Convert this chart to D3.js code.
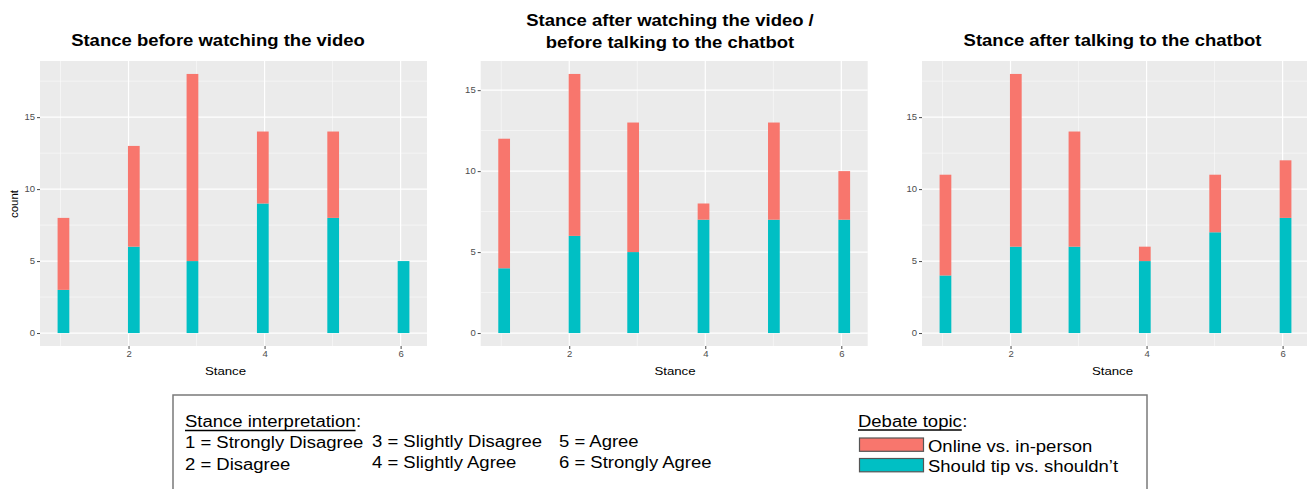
<!DOCTYPE html>
<html>
<head>
<meta charset="utf-8">
<script src="https://cdn.jsdelivr.net/npm/d3@7"></script>
<style>
  body { margin: 0; background: #fff; }
  svg { display: block; }
  text { font-family: "Liberation Sans", Arial, Helvetica, sans-serif; }
</style>
</head>
<body>
<svg id="chart" width="1307" height="489"></svg>
<script>
// ---- data ----
const stances = [1, 2, 3, 4, 5, 6];
const panelTitles = [
  ["Stance before watching the video"],
  ["Stance after watching the video /", "before talking to the chatbot"],
  ["Stance after talking to the chatbot"]
];
// counts per stance, one array per debate topic and per moment
const onlineBefore = [5, 7, 13, 5, 6, 0];
const tipBefore    = [3, 6, 5, 9, 8, 5];
const onlineMiddle = [8, 10, 8, 1, 6, 3];
const tipMiddle    = [4, 6, 5, 7, 7, 7];
const onlineAfter  = [7, 12, 8, 1, 4, 4];
const tipAfter     = [4, 6, 6, 5, 7, 8];
const xTicks = [2, 4, 6];
const yTicks = [0, 5, 10, 15];
const topicNames = ["Online vs. in-person", "Should tip vs. shouldn\u2019t"];
const stanceLegend = [
  ["1 = Strongly Disagree", "2 = Disagree"],
  ["3 = Slightly Disagree", "4 = Slightly Agree"],
  ["5 = Agree", "6 = Strongly Agree"]
];

const panelsData = [
  { online: onlineBefore, tip: tipBefore },
  { online: onlineMiddle, tip: tipMiddle },
  { online: onlineAfter,  tip: tipAfter }
];

const colors = { online: "#F8766D", tip: "#00BFC4" };

// histogram binning: 30 bins spanning the stance range
const binWidth = (d3.max(stances) - d3.min(stances)) / 29;
const binStart = d3.min(stances) - binWidth / 4;
const binEnd = binStart + 30 * binWidth;
const binLeft = s => binStart + Math.floor((s - binStart) / binWidth) * binWidth;

const svg = d3.select("#chart");

// horizontal stretch of text to the drawn widths
function stretch(sel, k) {
  sel.each(function () {
    const len = this.getComputedTextLength();
    d3.select(this).attr("textLength", len * k).attr("lengthAdjust", "spacingAndGlyphs");
  });
}

// ---- panel layout ----
const plotTop = 61, plotBottom = 346, plotWidth = 387;
const panelLefts = [40, 480.7, 922];
const titleCenters = [218, 670, 1112.5];
const axisTitleCenters = [225.5, 675, 1112.5];

panelsData.forEach((pd, i) => {
  const left = panelLefts[i];
  const xPad = (binEnd - binStart) * 0.05;
  const x = d3.scaleLinear().domain([binStart - xPad, binEnd + xPad]).range([left, left + plotWidth]);
  const maxTotal = d3.max(stances, (s, j) => pd.online[j] + pd.tip[j]);
  const y = d3.scaleLinear().domain([-0.05 * maxTotal, maxTotal * 1.05]).range([plotBottom, plotTop]);

  const g = svg.append("g");

  // panel background
  g.append("rect")
    .attr("x", left).attr("y", plotTop)
    .attr("width", plotWidth).attr("height", plotBottom - plotTop)
    .attr("fill", "#EBEBEB");

  // minor grid
  const xMinor = [1, 3, 5].filter(v => v > x.domain()[0] && v < x.domain()[1]);
  const yMinor = d3.range(2.5, maxTotal * 1.05, 5);
  g.selectAll(".xminor").data(xMinor).join("line")
    .attr("x1", d => x(d)).attr("x2", d => x(d))
    .attr("y1", plotTop).attr("y2", plotBottom)
    .attr("stroke", "#fff").attr("stroke-width", 0.6).attr("opacity", 0.9);
  g.selectAll(".yminor").data(yMinor).join("line")
    .attr("x1", left).attr("x2", left + plotWidth)
    .attr("y1", d => y(d)).attr("y2", d => y(d))
    .attr("stroke", "#fff").attr("stroke-width", 0.6).attr("opacity", 0.9);

  // major grid
  g.selectAll(".xmajor").data(xTicks).join("line")
    .attr("x1", d => x(d)).attr("x2", d => x(d))
    .attr("y1", plotTop).attr("y2", plotBottom)
    .attr("stroke", "#fff").attr("stroke-width", 1.2);
  const yT = yTicks.filter(v => v <= maxTotal * 1.05);
  g.selectAll(".ymajor").data(yT).join("line")
    .attr("x1", left).attr("x2", left + plotWidth)
    .attr("y1", d => y(d)).attr("y2", d => y(d))
    .attr("stroke", "#fff").attr("stroke-width", 1.2);

  // stacked bars: tip at the bottom, online on top
  const rows = stances.map((s, j) => ({ s, tip: pd.tip[j], online: pd.online[j] }));
  const stack = d3.stack().keys(["tip", "online"])(rows);
  stack.forEach(layer => {
    g.append("g").attr("fill", colors[layer.key])
      .selectAll("rect").data(layer.filter(d => d[1] > d[0])).join("rect")
      .attr("x", d => x(binLeft(d.data.s)))
      .attr("width", d => x(binLeft(d.data.s) + binWidth) - x(binLeft(d.data.s)))
      .attr("y", d => y(d[1]))
      .attr("height", d => y(d[0]) - y(d[1]));
  });

  // axes
  const xAxis = d3.axisBottom(x).tickValues(xTicks).tickSize(3).tickPadding(2).tickFormat(d3.format("d"));
  const yAxis = d3.axisLeft(y).tickValues(yT).tickSize(3).tickPadding(2).tickFormat(d3.format("d"));
  const gx = g.append("g").attr("transform", `translate(0,${plotBottom})`).call(xAxis);
  const gy = g.append("g").attr("transform", `translate(${left},0)`).call(yAxis);
  [gx, gy].forEach(ax => {
    ax.select(".domain").remove();
    ax.selectAll(".tick line").attr("stroke", "#333").attr("stroke-width", 0.9);
    ax.selectAll(".tick text").attr("fill", "#4D4D4D")
      .style("font-size", "8.5px").style("font-family", "'Liberation Sans', Arial, sans-serif");
    stretch(ax.selectAll(".tick text"), 1.12);
  });

  // axis titles
  const xt = g.append("text")
    .attr("x", axisTitleCenters[i]).attr("y", 375)
    .attr("text-anchor", "middle").attr("fill", "#000")
    .style("font-size", "11.5px").text("Stance");
  stretch(xt, 1.15);
  if (i === 0) {
    g.append("text")
      .attr("transform", "translate(18,204) rotate(-90)")
      .attr("text-anchor", "middle").attr("fill", "#000")
      .style("font-size", "11.5px").text("count");
  }

  // panel title
  const lines = panelTitles[i];
  const baselines = lines.length === 1 ? [46] : [26, 47.5];
  lines.forEach((ln, k) => {
    const t = svg.append("text")
      .attr("x", titleCenters[i]).attr("y", baselines[k])
      .attr("text-anchor", "middle").attr("fill", "#000")
      .style("font-size", "16.5px").style("font-weight", "bold").text(ln);
    stretch(t, 1.12);
  });
});

// ---- legend box ----
const lg = svg.append("g");
lg.append("rect")
  .attr("x", 173).attr("y", 395).attr("width", 974).attr("height", 110)
  .attr("fill", "#fff").attr("stroke", "#7a7a7a").attr("stroke-width", 1.5);

const legendFont = "16px";
const legendStretch = 1.155;

function headed(x, yb, label) {
  const t = lg.append("text").attr("x", x).attr("y", yb).attr("fill", "#000")
    .style("font-size", legendFont).text(label);
  stretch(t, legendStretch);
  const w = +t.attr("textLength");
  lg.append("line").attr("x1", x).attr("x2", x + w)
    .attr("y1", yb + 3.5).attr("y2", yb + 3.5)
    .attr("stroke", "#000").attr("stroke-width", 1.6);
  const c = lg.append("text").attr("x", x + w + 0.5).attr("y", yb).attr("fill", "#000")
    .style("font-size", legendFont).text(":");
  stretch(c, legendStretch);
}

headed(185, 427, "Stance interpretation");
const colX = [185, 372, 559];
const rowY = [[447.5, 469.5], [446.5, 467.5], [446.5, 467.5]];
stanceLegend.forEach((col, ci) => {
  col.forEach((txt, ri) => {
    const t = lg.append("text").attr("x", colX[ci]).attr("y", rowY[ci][ri])
      .attr("fill", "#000").style("font-size", legendFont).text(txt);
    stretch(t, legendStretch);
  });
});

headed(858, 426.5, "Debate topic");
const swatchY = [438, 458.5];
const swatchColors = [colors.online, colors.tip];
topicNames.forEach((name, k) => {
  lg.append("rect").attr("x", 859.5).attr("y", swatchY[k])
    .attr("width", 64).attr("height", 13.3)
    .attr("fill", swatchColors[k]).attr("stroke", "#555").attr("stroke-width", 1.2);
  const t = lg.append("text").attr("x", 928).attr("y", swatchY[k] + 13.7)
    .attr("fill", "#000").style("font-size", legendFont).text(name);
  stretch(t, legendStretch);
});
</script>
</body>
</html>
